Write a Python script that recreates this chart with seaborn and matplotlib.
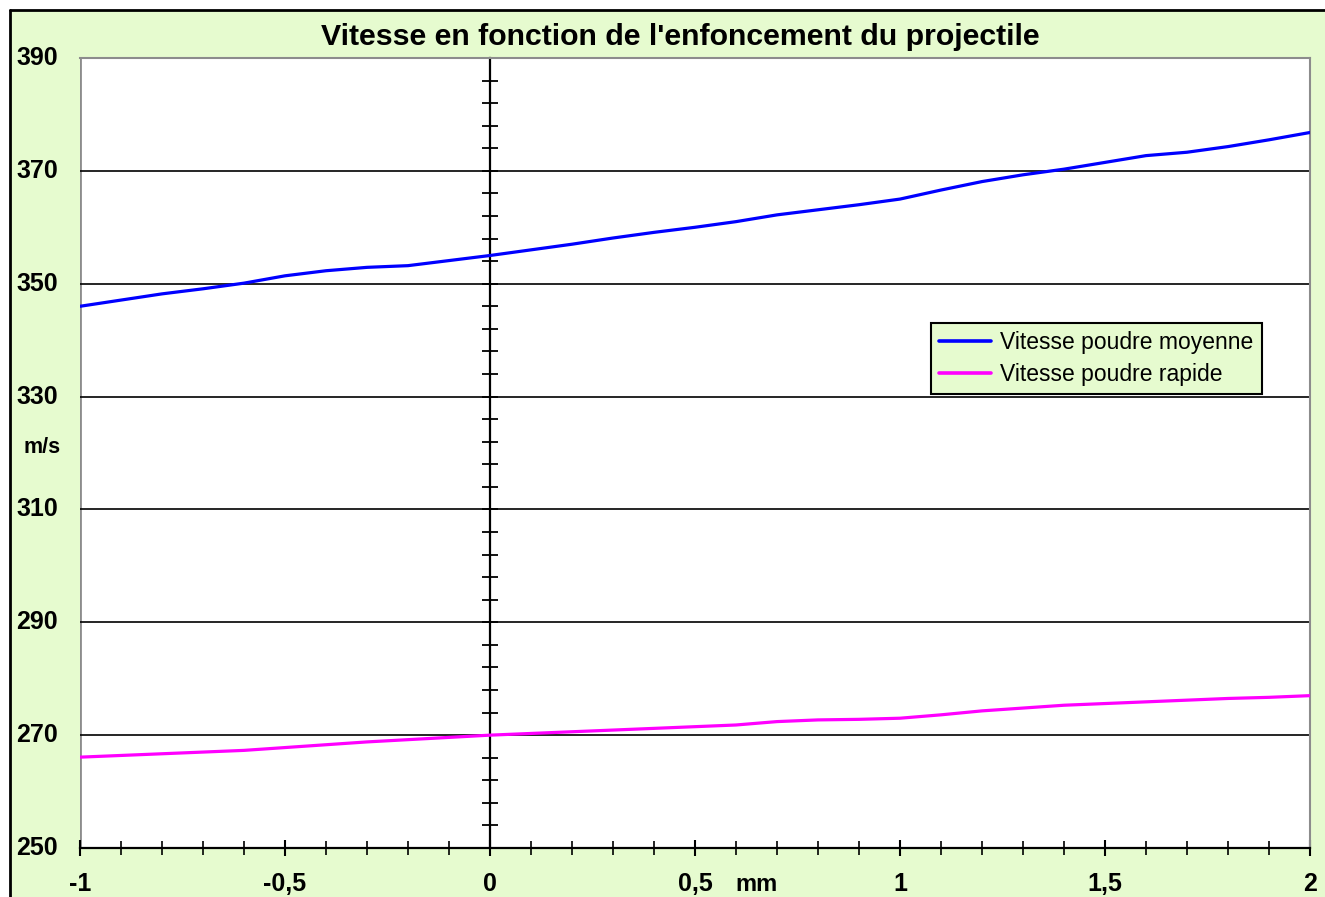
import numpy as np
import pandas as pd
import matplotlib
matplotlib.use("Agg")
import matplotlib.pyplot as plt
import matplotlib.transforms as mtransforms
from matplotlib.patches import Rectangle
from matplotlib.ticker import FixedLocator, MultipleLocator
import seaborn as sns


# DATA

title = "Vitesse en fonction de l'enfoncement du projectile"
x_label = "mm"
y_label = "m/s"

enfoncement = [-1.0, -0.9, -0.8, -0.7, -0.6, -0.5, -0.4, -0.3, -0.2, -0.1, 0.0,
               0.1, 0.2, 0.3, 0.4, 0.5, 0.6, 0.7, 0.8, 0.9, 1.0,
               1.1, 1.2, 1.3, 1.4, 1.5, 1.6, 1.7, 1.8, 1.9, 2.0]

vitesse_moyenne = [346.0, 347.1, 348.2, 349.1, 350.1, 351.4, 352.3, 352.9, 353.2, 354.1, 355.0,
                   356.0, 357.0, 358.1, 359.1, 360.0, 361.0, 362.2, 363.1, 364.0, 365.0,
                   366.6, 368.1, 369.3, 370.3, 371.5, 372.7, 373.3, 374.3, 375.5, 376.8]

vitesse_rapide = [266.1, 266.4, 266.7, 267.0, 267.3, 267.8, 268.3, 268.8, 269.2, 269.6, 270.0,
                  270.3, 270.6, 270.9, 271.2, 271.5, 271.8, 272.4, 272.7, 272.8, 273.0,
                  273.6, 274.3, 274.8, 275.3, 275.6, 275.9, 276.2, 276.5, 276.7, 277.0]

series_names = ["Vitesse poudre moyenne", "Vitesse poudre rapide"]
series_colors = ["#0000FF", "#FF00FF"]

x_ticks = [-1, -0.5, 0, 0.5, 1, 1.5, 2]
x_tick_labels = ["-1", "-0,5", "0", "0,5", "1", "1,5", "2"]
y_ticks = [250, 270, 290, 310, 330, 350, 370, 390]
y_tick_labels = ["250", "270", "290", "310", "330", "350", "370", "390"]


# long-form frame for seaborn
df = pd.concat([
    pd.DataFrame({"x": enfoncement, "v": vitesse_moyenne, "serie": series_names[0]}),
    pd.DataFrame({"x": enfoncement, "v": vitesse_rapide, "serie": series_names[1]}),
])


# STYLE

sns.set_style("white")
plt.rcParams["font.family"] = ["Liberation Sans", "DejaVu Sans"]
plt.rcParams["text.color"] = "black"

bg_green = "#E6FBCF"
frame_gray = "#8c8c8c"

fig = plt.figure(figsize=(13.25, 8.97), dpi=100)
fig.patch.set_facecolor("white")

# green chart area with black border on top / left
W, H = 1325, 897
fig.add_artist(Rectangle((10 / W, 0), 1 - 10 / W, 1 - 10 / H, transform=fig.transFigure,
                         facecolor=bg_green, edgecolor="none", zorder=-2))
fig.add_artist(plt.Line2D([10 / W, 1], [1 - 10 / H, 1 - 10 / H], transform=fig.transFigure,
                          color="black", lw=2))
fig.add_artist(plt.Line2D([10 / W, 10 / W], [0, 1 - 10 / H], transform=fig.transFigure,
                          color="black", lw=2))

ax = fig.add_axes([80 / W, 49 / H, 1230 / W, 790 / H])
ax.set_facecolor("white")

sns.lineplot(data=df, x="x", y="v", hue="serie", palette=series_colors,
             linewidth=2.3, ax=ax, legend=True, zorder=5)

ax.set_xlim(-1, 2)
ax.set_ylim(250, 390)
ax.set_xlabel("")
ax.set_ylabel("")

# horizontal grid lines (not at the top, the plot frame is there)
for y in y_ticks[1:-1]:
    ax.axhline(y, color="black", lw=1.2, zorder=1)

# spines: gray frame, x axis black at bottom, y axis at x = 0
for side in ["top", "right"]:
    ax.spines[side].set_color(frame_gray)
    ax.spines[side].set_linewidth(1.5)
ax.spines["bottom"].set_color("black")
ax.spines["bottom"].set_linewidth(1.6)
ax.spines["bottom"].set_zorder(6)
ax.spines["left"].set_position(("data", 0))
ax.spines["left"].set_color("black")
ax.spines["left"].set_linewidth(1.6)
ax.spines["left"].set_zorder(2)
ax.axvline(-1, color=frame_gray, lw=2, zorder=0)

# x ticks every 0.1, labels every 0.5 (labels drawn as text below)
ax.xaxis.set_major_locator(FixedLocator(x_ticks))
ax.xaxis.set_minor_locator(MultipleLocator(0.1))
ax.tick_params(axis="x", which="both", bottom=True, labelbottom=False)
ax.tick_params(axis="x", which="major", direction="inout", length=12, width=1.5, color="black")
ax.tick_params(axis="x", which="minor", direction="inout", length=10, width=1.2, color="black")

# y ticks every 4 on the axis at x = 0, labels drawn at left edge
ax.yaxis.set_major_locator(FixedLocator(y_ticks))
ax.yaxis.set_minor_locator(MultipleLocator(4, offset=2))
ax.tick_params(axis="y", which="both", left=True, direction="inout", length=11, width=1.3,
               color="black", labelleft=False)

lbl_trans = mtransforms.blended_transform_factory(ax.transAxes, ax.transData)
for y, lab in zip(y_ticks, y_tick_labels):
    ax.text(-0.018, y, lab, transform=lbl_trans, ha="right", va="center",
            fontsize=18, fontweight="bold", clip_on=False)
ax.text(-0.031, 320.9, y_label, transform=lbl_trans, ha="center", va="center",
        fontsize=15.5, fontweight="bold", clip_on=False)

xl_trans = mtransforms.blended_transform_factory(ax.transData, ax.transAxes)
for x, lab in zip(x_ticks, x_tick_labels):
    ax.text(x, -0.054, lab, transform=xl_trans, ha="center", va="baseline",
            fontsize=18, fontweight="bold", clip_on=False)
# "mm" next to the 0,5 label
ax.text(0.65, -0.054, x_label, transform=xl_trans, ha="center", va="baseline",
        fontsize=17, fontweight="bold", clip_on=False)

fig.text(680 / W, 1 - 37 / H, title, ha="center", va="center",
         fontsize=21.8, fontweight="bold")

# legend
leg = ax.legend(loc="upper left", bbox_to_anchor=(0.6915, 0.665), frameon=True,
                fancybox=False, framealpha=1, facecolor=bg_green, edgecolor="black",
                fontsize=16.5, handlelength=2.3, handletextpad=0.4, borderpad=0.35,
                labelspacing=0.4, borderaxespad=0)
leg.get_frame().set_linewidth(1.5)
for line in leg.get_lines():
    line.set_linewidth(2.6)
leg.set_zorder(10)

fig.savefig("out.png", dpi=100, facecolor=fig.get_facecolor())
